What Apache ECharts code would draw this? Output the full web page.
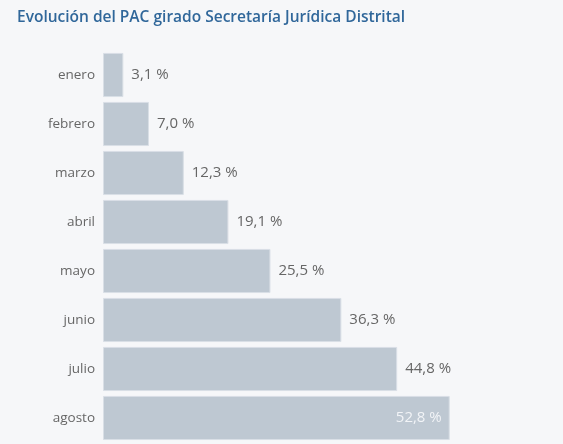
<!DOCTYPE html>
<html><head><meta charset="utf-8">
<script src="https://cdn.jsdelivr.net/npm/echarts@6/dist/echarts.min.js"></script>
<style>html,body{margin:0;padding:0;background:#f6f7f9}#c{width:563px;height:444px}</style>
</head><body><div id="c"></div>
<script>
const categories = ['enero','febrero','marzo','abril','mayo','junio','julio','agosto'];
const values = [3.1, 7.0, 12.3, 19.1, 25.5, 36.3, 44.8, 52.8];
const titleText = 'Evolución del PAC girado Secretaría Jurídica Distrital';

const fmt = v => v.toFixed(1).replace('.', ',') + ' %';
const chart = echarts.init(document.getElementById('c'));
chart.setOption({
  backgroundColor: '#f6f7f9',
  animation: false,
  title: {
    text: titleText, left: 12, top: 5,
    textStyle: {fontFamily: 'Open Sans', fontSize: 15.5, fontWeight: 600, color: '#30679a'}
  },
  grid: {left: 103, right: 66, top: 50.5, bottom: 1.5},
  xAxis: {type: 'value', min: 0, max: 60, show: false},
  yAxis: {
    type: 'category', data: categories, inverse: true,
    axisLine: {show: false}, axisTick: {show: false},
    axisLabel: {margin: 8, color: '#666666', fontFamily: 'Open Sans', fontSize: 13.5}
  },
  series: [{
    type: 'bar', barCategoryGap: '10%',
    data: values.map((v, i) => ({
      value: v,
      label: i === values.length - 1
        ? {position: 'insideRight', color: '#f2f4f7', distance: 8}
        : {position: 'right', color: '#666666', distance: 8}
    })),
    itemStyle: {color: '#bec8d2', borderColor: '#d9dfe6', borderWidth: 1},
    label: {show: true, fontFamily: 'Open Sans', fontSize: 15, formatter: p => fmt(p.value)}
  }]
});
</script></body></html>
